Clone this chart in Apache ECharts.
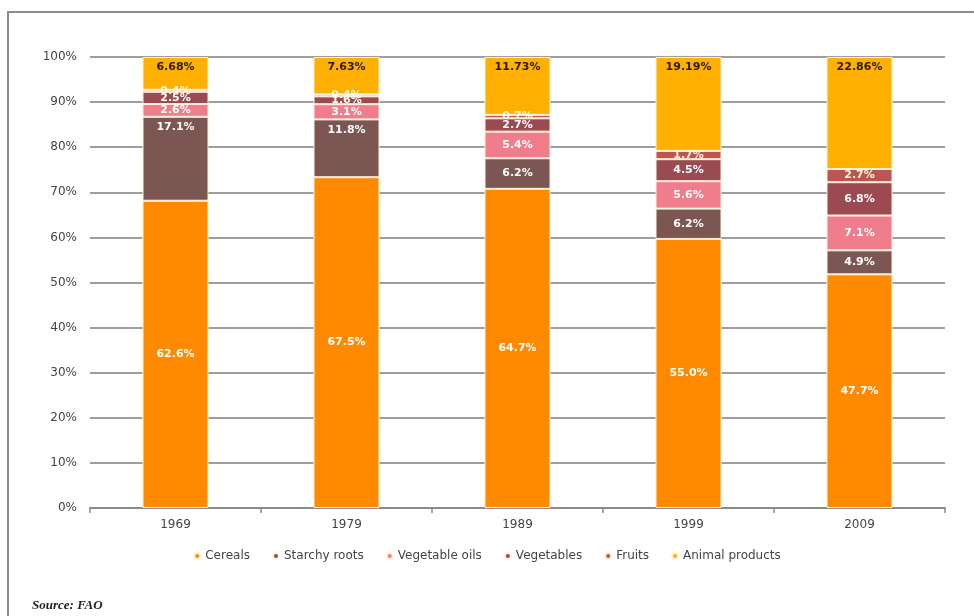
<!DOCTYPE html>
<html>
<head>
<meta charset="utf-8">
<script src="https://cdn.jsdelivr.net/npm/echarts@6/dist/echarts.min.js"></script>
<style>
  html, body { margin: 0; padding: 0; background: #ffffff; }
  #chart { width: 974px; height: 616px; }
</style>
</head>
<body>
<div id="chart"></div>
<script>
// Dietary composition by food group (share of daily calories), FAO
const years = ['1969', '1979', '1989', '1999', '2009'];
const cereals        = [62.6, 67.5, 64.7, 55.0, 47.7];
const starchyRoots   = [17.1, 11.8, 6.2, 6.2, 4.9];
const vegetableOils  = [2.6, 3.1, 5.4, 5.6, 7.1];
const vegetables     = [2.5, 1.6, 2.7, 4.5, 6.8];
const fruits         = [0.4, 0.4, 0.7, 1.7, 2.7];
const animalProducts = [6.68, 7.63, 11.73, 19.19, 22.86];
const yTickLabels = ['0%', '10%', '20%', '30%', '40%', '50%', '60%', '70%', '80%', '90%', '100%'];

const FONT = '"DejaVu Sans", Verdana, sans-serif';

const groups = [
  { name: 'Cereals',         values: cereals,        color: '#ff8a00', label: '#ffffff', decimals: 1 },
  { name: 'Starchy roots',   values: starchyRoots,   color: '#7b5653', label: '#ffffff', decimals: 1 },
  { name: 'Vegetable oils',  values: vegetableOils,  color: '#ef7d8b', label: '#ffffff', decimals: 1 },
  { name: 'Vegetables',      values: vegetables,     color: '#9c4a52', label: '#ffffff', decimals: 1 },
  { name: 'Fruits',          values: fruits,         color: '#bd5652', label: '#fff6d8', decimals: 1 },
  { name: 'Animal products', values: animalProducts, color: '#ffb000', label: '#2a1a00', decimals: 2 }
];

// Each column is scaled to 100% of the listed groups
const totals = years.map((_, i) => groups.reduce((s, g) => s + g.values[i], 0));

const series = groups.map(g => ({
  name: g.name,
  type: 'bar',
  stack: 'diet',
  barWidth: 66,
  itemStyle: { color: g.color, borderColor: '#fff1da', borderWidth: 1 },
  data: g.values.map((v, i) => {
    const item = { value: v / totals[i] * 100, raw: v };
    if (g.name === 'Animal products' || (g.name === 'Starchy roots' && i < 2)) {
      item.label = { position: 'insideTop', distance: 5 };
    }
    return item;
  }),
  label: {
    show: true,
    position: 'inside',
    color: g.label,
    fontFamily: FONT,
    fontWeight: 'bold',
    fontSize: 11,
    formatter: p => p.data.raw.toFixed(g.decimals) + '%'
  },
  emphasis: { disabled: true }
}));

const chart = echarts.init(document.getElementById('chart'), null, { renderer: 'canvas' });
chart.setOption({
  animation: false,
  backgroundColor: '#ffffff',
  textStyle: { fontFamily: FONT },
  grid: { left: 90, right: 29, top: 57, bottom: 108, containLabel: false },
  legend: {
    bottom: 49,
    left: 'center',
    icon: 'circle',
    itemWidth: 6,
    itemHeight: 6,
    itemGap: 22,
    textStyle: { color: '#444', fontSize: 12, fontFamily: FONT },
    data: groups.map(g => g.name)
  },
  xAxis: {
    type: 'category',
    data: years,
    axisLine: { lineStyle: { color: '#8a8a8a', width: 2 } },
    axisTick: { show: true, length: 5, lineStyle: { color: '#8a8a8a', width: 1.5 } },
    axisLabel: { color: '#444', fontSize: 12, fontFamily: FONT, margin: 11 }
  },
  yAxis: {
    type: 'value',
    min: 0,
    max: 100,
    interval: 10,
    axisLine: { show: false },
    axisTick: { show: false },
    splitLine: { lineStyle: { color: '#9e9e9e', width: 2 } },
    axisLabel: {
      color: '#444',
      fontSize: 12,
      fontFamily: FONT,
      margin: 13,
      formatter: v => yTickLabels[Math.round(v / 10)]
    }
  },
  graphic: [
    {
      type: 'rect',
      shape: { x: 8, y: 12, width: 980, height: 620 },
      style: { fill: 'none', stroke: '#8c8c8c', lineWidth: 2 },
      silent: true
    },
    {
      type: 'text',
      left: 32,
      top: 599,
      style: {
        text: 'Source: FAO',
        font: 'italic bold 13px "Liberation Serif", "DejaVu Serif", serif',
        fill: '#222'
      }
    }
  ],
  series: series
});
</script>
</body>
</html>
